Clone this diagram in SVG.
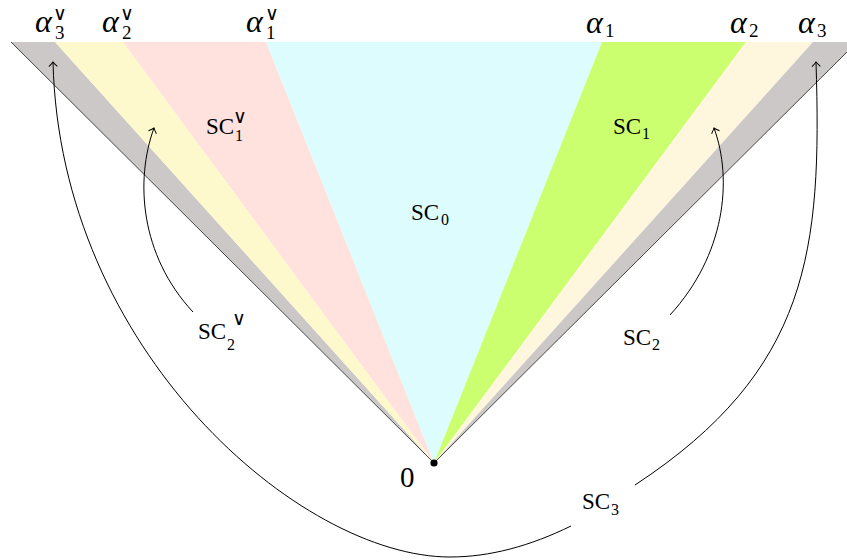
<svg xmlns="http://www.w3.org/2000/svg" width="847" height="560" viewBox="0 0 847 560">
<defs>
<style>
.al{font-family:"Liberation Serif",serif;font-style:italic;font-size:32px;fill:#000}
.sub{font-family:"Liberation Serif",serif;font-size:19px;fill:#000}
.ssub{font-family:"Liberation Serif",serif;font-size:16px;fill:#000}
.vee{font-family:"DejaVu Sans",sans-serif;font-size:19px;fill:#000}
.sc{font-family:"Liberation Serif",serif;font-size:23px;fill:#000}
.zero{font-family:"Liberation Serif",serif;font-size:29px;fill:#000}
.edge{stroke:#333;stroke-width:0.9;fill:none}
.conn{stroke:#000;stroke-width:1;fill:none;marker-end:url(#arr)}
</style>
<marker id="arr" markerUnits="userSpaceOnUse" orient="auto" markerWidth="12" markerHeight="12" refX="0" refY="0" viewBox="-6 -6 12 12" overflow="visible">
<path d="M-4.5,-4.2 Q-1.5,-1 0,0 Q-1.5,1 -4.5,4.2" fill="none" stroke="#000" stroke-width="1"/>
</marker>
</defs>
<rect width="847" height="560" fill="#fff"/>
<g id="regions">
<polygon id="gray-left" points="11,42 55,42 434,463" fill="#ccc8c8"/>
<polygon id="yellow" points="55,42 123,42 434,463" fill="#fef9cc"/>
<polygon id="pink" points="123,42 266,42 434,463" fill="#ffe1de"/>
<polygon id="cyan" points="266,42 602,42 434,463" fill="#dcfcfe"/>
<polygon id="green" points="602,42 746,42 434,463" fill="#ccff70"/>
<polygon id="cream" points="746,42 813,42 434,463" fill="#fef6dd"/>
<polygon id="gray-right" points="813,42 847,42 847,52 434,463" fill="#ccc8c8"/>
<line class="edge" x1="11" y1="42" x2="434" y2="463"/>
<line class="edge" x1="434" y1="463" x2="847" y2="52"/>
</g>
<g id="origin">
<circle cx="434" cy="463" r="3.6" fill="#000"/>
<text class="zero" x="400" y="487">0</text>
</g>
<g id="labels-top">
<g id="a3v"><text class="al" x="35" y="32">α</text><text class="sub" x="55" y="39">3</text><text class="vee" x="53" y="20">∨</text></g>
<g id="a2v"><text class="al" x="102" y="32">α</text><text class="sub" x="122" y="39">2</text><text class="vee" x="120" y="20">∨</text></g>
<g id="a1v"><text class="al" x="246" y="32">α</text><text class="sub" x="266" y="39">1</text><text class="vee" x="265" y="20">∨</text></g>
<g id="a1"><text class="al" x="586" y="33">α</text><text class="sub" x="605" y="37">1</text></g>
<g id="a2"><text class="al" x="730" y="33">α</text><text class="sub" x="749" y="37">2</text></g>
<g id="a3"><text class="al" x="798" y="33">α</text><text class="sub" x="817" y="37">3</text></g>
</g>
<g id="SC1v"><text class="sc" x="206" y="134">SC</text><text class="ssub" x="235" y="141">1</text><text class="vee" x="233" y="123">∨</text></g>
<g id="SC0"><text class="sc" x="411" y="220">SC</text><text class="ssub" x="441" y="225">0</text></g>
<g id="SC1"><text class="sc" x="613" y="134">SC</text><text class="ssub" x="642" y="139">1</text></g>
<g id="SC2v"><text class="sc" x="198" y="339">SC</text><text class="ssub" x="227" y="350">2</text><text class="vee" x="232" y="325">∨</text></g>
<g id="SC2"><text class="sc" x="623" y="345">SC</text><text class="ssub" x="652" y="350">2</text></g>
<g id="SC3"><text class="sc" x="582" y="509">SC</text><text class="ssub" x="611" y="515">3</text></g>
<g id="connectors">
<path class="conn" d="M193,312 C140,255 135,180 154,128"/>
<path class="conn" d="M670,315 C725,255 733,180 714,128"/>
<path class="conn" d="M571,526 C530,546 490,557 450,557 C300,557 60,350 53,62"/>
<path class="conn" d="M635,485 C810,370 822,250 816,62"/>
</g>
</svg>
